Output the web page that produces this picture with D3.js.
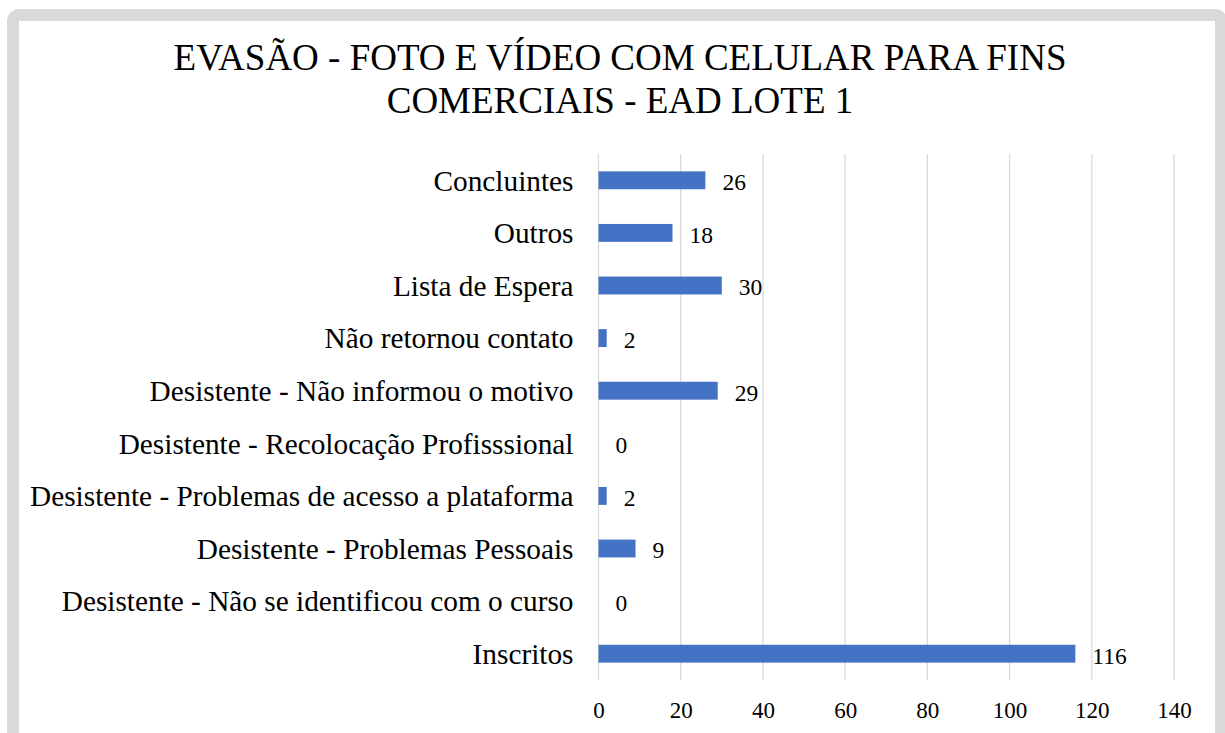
<!DOCTYPE html>
<html>
<head>
<meta charset="utf-8">
<script src="https://cdn.jsdelivr.net/npm/d3@7/dist/d3.min.js"></script>
<style>
html,body{margin:0;padding:0;background:#fff;}
svg{display:block;}
</style>
</head>
<body>
<svg id="chart" width="1225" height="733"></svg>
<script>
const titleLines = ["EVASÃO - FOTO E VÍDEO COM CELULAR PARA FINS", "COMERCIAIS - EAD LOTE 1"];
const categories = [
  "Concluintes",
  "Outros",
  "Lista de Espera",
  "Não retornou contato",
  "Desistente - Não informou o motivo",
  "Desistente - Recolocação Profisssional",
  "Desistente - Problemas de acesso a plataforma",
  "Desistente - Problemas Pessoais",
  "Desistente - Não se identificou com o curso",
  "Inscritos"
];
const values = [26, 18, 30, 2, 29, 0, 2, 9, 0, 116];
const xTicks = [0, 20, 40, 60, 80, 100, 120, 140];

(function () {
const svg = d3.select("#chart");
const font = "'Liberation Serif','Times New Roman',serif";

// frame
svg.append("rect")
  .attr("x", 13).attr("y", 15)
  .attr("width", 1208).attr("height", 740)
  .attr("rx", 6).attr("ry", 6)
  .attr("fill", "#fff")
  .attr("stroke", "#d9d9d9")
  .attr("stroke-width", 12);

// title
svg.append("g").selectAll("text").data(titleLines).join("text")
  .attr("x", 620)
  .attr("y", (d, i) => 70 + i * 43)
  .attr("text-anchor", "middle")
  .attr("font-family", font)
  .attr("font-size", 37)
  .attr("fill", "#000")
  .text(d => d);

const pLeft = 598.5, pRight = 1174, pTop = 154, pBottom = 680;
const x = d3.scaleLinear().domain([0, 140]).range([pLeft, pRight]);
const y = d3.scaleBand().domain(categories).range([pTop, pBottom]).paddingInner(0.66).paddingOuter(0.33);

// gridlines
svg.append("g").selectAll("line").data(xTicks).join("line")
  .attr("x1", d => x(d)).attr("x2", d => x(d))
  .attr("y1", pTop).attr("y2", pBottom)
  .attr("stroke", "#d9d9d9")
  .attr("stroke-width", 1.3);

// x axis labels
const xAxis = d3.axisBottom(x).tickValues(xTicks).tickSize(0).tickPadding(0);
const xg = svg.append("g").attr("transform", `translate(0,${pBottom})`).call(xAxis);
xg.select(".domain").remove();
xg.selectAll("text")
  .attr("font-family", font).attr("font-size", 23).attr("fill", "#000")
  .attr("dy", null).attr("y", 37.5);

// y axis labels
const yAxis = d3.axisLeft(y).tickSize(0).tickPadding(25);
const yg = svg.append("g").attr("transform", `translate(${pLeft},0)`).call(yAxis);
yg.select(".domain").remove();
yg.selectAll("text")
  .attr("font-family", font).attr("font-size", 29.3).attr("fill", "#000")
  .attr("dy", "0.35em");

// bars
const data = categories.map((c, i) => ({c, v: values[i]}));
svg.append("g").selectAll("rect").data(data).join("rect")
  .attr("x", x(0))
  .attr("y", d => y(d.c))
  .attr("width", d => x(d.v) - x(0))
  .attr("height", y.bandwidth())
  .attr("fill", "#4472C4");

// data labels
svg.append("g").selectAll("text").data(data).join("text")
  .attr("x", d => x(d.v) + 17)
  .attr("y", d => y(d.c) + y.bandwidth() / 2)
  .attr("dy", "0.42em")
  .attr("font-family", font)
  .attr("font-size", 23.5)
  .attr("fill", "#000")
  .text(d => d.v);
})();
</script>
</body>
</html>
